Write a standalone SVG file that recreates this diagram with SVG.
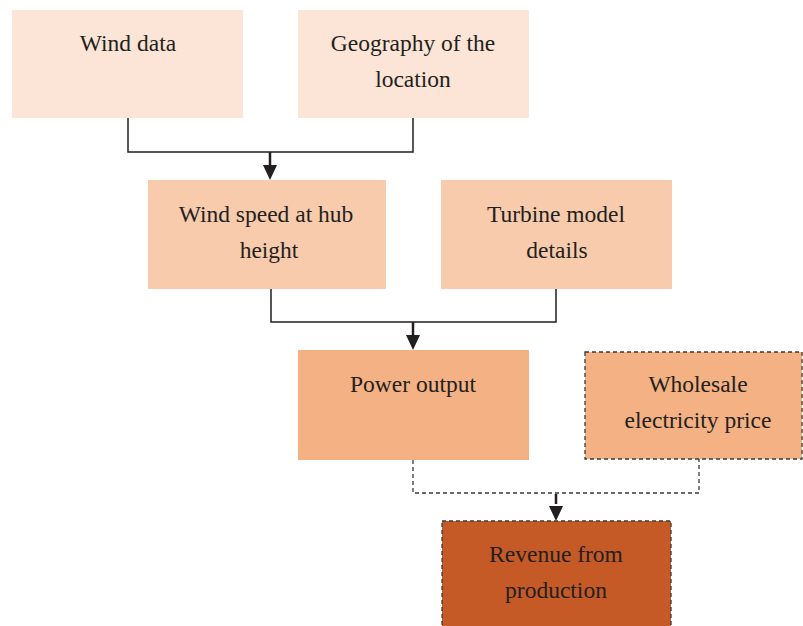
<svg xmlns="http://www.w3.org/2000/svg" width="803" height="626" viewBox="0 0 803 626">
<defs>
<style>
.t{font-family:"Liberation Serif","Times New Roman",serif;font-size:23.5px;fill:#231F20;text-anchor:middle}
.c1{fill:#FCE4D6}
.c2{fill:#F8CBAD}
.c3{fill:#F4B183}
.c4{fill:#C55A27}
.dash{stroke:#3a3a3a;stroke-width:1.3;stroke-dasharray:4 3}
.ln{fill:none;stroke:#231F20;stroke-width:1.5}
.dl{fill:none;stroke:#3a3a3a;stroke-width:1.3;stroke-dasharray:4 3}
</style>
<marker id="ah" markerWidth="10" markerHeight="10" viewBox="0 0 10 10" refX="10" refY="5" orient="auto" markerUnits="userSpaceOnUse">
<path d="M0,0 L10,5 L0,10 Z" fill="#231F20"/>
</marker>
</defs>
<rect width="803" height="626" fill="#fff"/>
<g id="connectors">
<path class="ln" d="M128,118 V152 H413 V118"/>
<path d="M270,152 V166" stroke="#231F20" stroke-width="2.5"/>
<path d="M263,165 L277,165 L270,180 Z" fill="#231F20"/>
<path class="ln" d="M271,289 V322 H556 V289"/>
<path d="M413,322 V336" stroke="#231F20" stroke-width="2.5"/>
<path d="M406,335 L420,335 L413,350 Z" fill="#231F20"/>
<path class="dl" d="M413,460 V493 H699 V459"/>
<path d="M556,494 V504" stroke="#231F20" stroke-width="2.5"/>
<path d="M549,506 L563,506 L556,521 Z" fill="#231F20"/>
</g>
<g id="wind-data"><rect class="c1" x="12" y="10" width="231" height="108"/><text class="t" x="128" y="51">Wind data</text></g>
<g id="geography"><rect class="c1" x="298" y="10" width="231" height="108"/><text class="t" x="413" y="51">Geography of the</text><text class="t" x="413" y="87">location</text></g>
<g id="wind-speed"><rect class="c2" x="148" y="180" width="238" height="109"/><text class="t" x="266" y="222">Wind speed at hub</text><text class="t" x="269" y="258">height</text></g>
<g id="turbine"><rect class="c2" x="441" y="180" width="231" height="109"/><text class="t" x="556" y="222">Turbine model</text><text class="t" x="557" y="258">details</text></g>
<g id="power"><rect class="c3" x="298" y="350" width="231" height="110"/><text class="t" x="413" y="392">Power output</text></g>
<g id="wholesale"><rect class="c3 dash" x="585" y="352" width="217" height="107"/><text class="t" x="698" y="392">Wholesale</text><text class="t" x="698" y="428">electricity price</text></g>
<g id="revenue"><rect class="c4 dash" x="442" y="521" width="229" height="110"/><text class="t" x="556" y="562">Revenue from</text><text class="t" x="556" y="598">production</text></g>
</svg>
